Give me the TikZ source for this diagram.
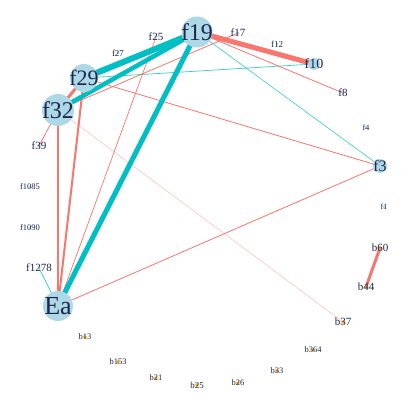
\documentclass[tikz,border=0pt]{standalone}
\usepackage{fontspec}
\setmainfont{Liberation Serif}
\definecolor{sal}{HTML}{F8766D}
\definecolor{tea}{HTML}{00BFC4}
\definecolor{lb}{HTML}{ADD8E6}
\definecolor{ink}{HTML}{1E2650}
\definecolor{org}{HTML}{FFA500}
\begin{document}
\begin{tikzpicture}[x=1pt,y=-1pt,
  lbl/.style={text=ink, inner sep=0pt, font=\fontsize{#1}{#1}\selectfont},
  sedge/.style={draw=sal, line width=#1},
  tedge/.style={draw=tea, line width=#1},
  bigdot/.style={fill=lb},
  fdot/.style={fill=lb},
  bdot/.style={fill=org}]
\useasboundingbox[fill=white] (0,0) rectangle (415,415);
% positions
\coordinate (p19) at (197,32);
\coordinate (p29) at (84,78);
\coordinate (p32) at (58,110);
\coordinate (pEa) at (58,306);
\coordinate (p10) at (314,64);
\coordinate (p3) at (380,166);
\coordinate (p17) at (238,33);
\coordinate (p12) at (277,44);
\coordinate (p8) at (343,93);
\coordinate (p4) at (366,128);
\coordinate (p1) at (384,207);
\coordinate (p25) at (156,37);
\coordinate (p27) at (118,53);
\coordinate (p39) at (39,146);
\coordinate (p1085) at (30,187);
\coordinate (p1090) at (30,228);
\coordinate (p1278) at (39,268);
\coordinate (b60p) at (380,248);
\coordinate (b44p) at (366,287);
\coordinate (b37p) at (343,322);
\coordinate (b364p) at (313,350);
\coordinate (b33p) at (277,371);
\coordinate (b26p) at (238,383);
\coordinate (b25p) at (197,385);
\coordinate (b21p) at (156,378);
\coordinate (b153p) at (118,362);
\coordinate (b13p) at (85,337);
% edges
\draw[sedge=0.8, opacity=0.35] (p32) -- (b37p);
\draw[sedge=0.8] (p32) -- (p17);
\draw[sedge=0.8] (p29) -- (p3);
\draw[tedge=0.7, opacity=0.8] (p29) -- (p10);
\draw[sedge=0.8] (p19) -- (p8);
\draw[tedge=0.6, opacity=0.8] (p19) -- (p3);
\draw[sedge=0.8] (pEa) -- (p3);
\draw[sedge=0.7] (p25) -- (pEa);
\draw[sedge=0.8] (p39) -- (p32);
\draw[tedge=0.6] (pEa) -- (p1278);
\draw[sedge=1.5] (p32) -- (pEa);
\draw[sedge=2] (p29) -- (pEa);
\draw[sedge=3] (p29) -- (p32);
\draw[sedge=5] (p19) -- (p10);
\draw[tedge=5] (p19) -- (pEa);
\draw[tedge=4.5] (p19) -- (p32);
\draw[tedge=6] (p19) -- (p29);
\draw[sedge=3] (b60p) -- (b44p);
% node discs
\fill[bigdot] (p19) circle (15.5);
\fill[bigdot] (p29) circle (14);
\fill[bigdot] (p32) circle (16);
\fill[bigdot] (pEa) circle (15);
\fill[bigdot] (p10) circle (6);
\fill[bigdot] (p3) circle (7);
\foreach \p in {p17,p12,p8,p4,p1,p25,p27,p39,p1085,p1090,p1278}
  \fill[fdot] (\p) circle (1.6);
\foreach \p in {b60p,b44p,b37p,b364p,b33p,b26p,b25p,b21p,b153p,b13p}
  \fill[bdot] (\p) circle (1.8);
% labels
\node[lbl=24] (f19) at (p19) {f19};
\node[lbl=22] (f29) at (p29) {f29};
\node[lbl=24] (f32) at (p32) {f32};
\node[lbl=26] (Ea) at (pEa) {Ea};
\node[lbl=14] (f10) at (p10) {f10};
\node[lbl=16] (f3) at (p3) {f3};
\node[lbl=11] (f17) at (p17) {f17};
\node[lbl=9] (f12) at (p12) {f12};
\node[lbl=11] (f8) at (p8) {f8};
\node[lbl=8] (f4) at (p4) {f4};
\node[lbl=8] (f1) at (p1) {f1};
\node[lbl=11] (f25) at (p25) {f25};
\node[lbl=9] (f27) at (p27) {f27};
\node[lbl=11] (f39) at (p39) {f39};
\node[lbl=8.5] (f1085) at (p1085) {f1085};
\node[lbl=8.5] (f1090) at (p1090) {f1090};
\node[lbl=11] (f1278) at (p1278) {f1278};
\node[lbl=11] (b60) at (b60p) {b60};
\node[lbl=11] (b44) at (b44p) {b44};
\node[lbl=11] (b37) at (b37p) {b37};
\node[lbl=8.5] (b364) at (b364p) {b364};
\node[lbl=8.5] (b33) at (b33p) {b33};
\node[lbl=8.5] (b26) at (b26p) {b26};
\node[lbl=9] (b25) at (b25p) {b25};
\node[lbl=8.5] (b21) at (b21p) {b21};
\node[lbl=8.5] (b153) at (b153p) {b153};
\node[lbl=8.5] (b13) at (b13p) {b13};
\end{tikzpicture}
\end{document}
